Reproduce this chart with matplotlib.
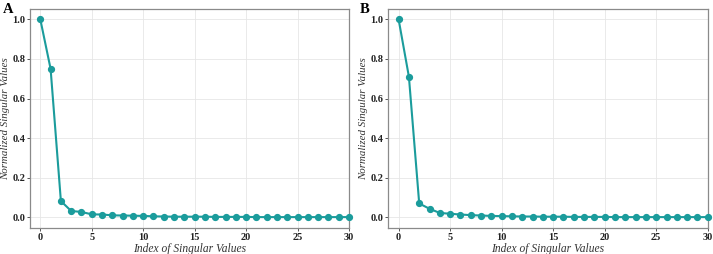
import matplotlib
matplotlib.use("Agg")
import matplotlib.pyplot as plt

# normalized singular values (index 0..30)
idx = list(range(31))
sv_a = [1.0, 0.75, 0.082, 0.032, 0.027, 0.015, 0.014, 0.010, 0.009, 0.008, 0.007,
        0.005, 0.004, 0.003, 0.003, 0.003, 0.003, 0.002, 0.002, 0.002, 0.002,
        0.001, 0.001, 0.001, 0.001, 0.001, 0.001, 0.001, 0.001, 0.001, 0.001]
sv_b = [1.0, 0.71, 0.070, 0.043, 0.022, 0.018, 0.014, 0.011, 0.009, 0.007, 0.006,
        0.005, 0.004, 0.004, 0.003, 0.003, 0.003, 0.002, 0.002, 0.002, 0.002,
        0.001, 0.001, 0.001, 0.001, 0.001, 0.001, 0.001, 0.001, 0.001, 0.001]
panels = ["A", "B"]
xticks = [0, 5, 10, 15, 20, 25, 30]
yticks = [0.0, 0.2, 0.4, 0.6, 0.8, 1.0]

plt.rcParams['font.family'] = ['Liberation Serif', 'DejaVu Serif']
color = '#1b9c9c'

fig = plt.figure(figsize=(7.13, 2.54), dpi=100)
positions = [[0.0421, 0.1024, 0.4474, 0.862], [0.5446, 0.1024, 0.448, 0.862]]
label_x = [3 / 713, 360 / 713]
ylab_x = [-0.062, -0.062]

for pos, vals, lab, lx, yx in zip(positions, [sv_a, sv_b], panels, label_x, ylab_x):
    ax = fig.add_axes(pos)
    ax.plot(idx, vals, color=color, linewidth=1.5, marker='o', markersize=4.2, zorder=3, clip_on=False)
    ax.set_xlim(-1, 30)
    ax.set_ylim(-0.054, 1.052)
    ax.set_xticks(xticks)
    ax.set_yticks(yticks)
    ax.set_yticklabels([f"{v:.1f}" for v in yticks])
    ax.grid(color='#e6e6e6', linewidth=0.6)
    ax.set_axisbelow(True)
    for s in ax.spines.values():
        s.set_color('#8a8a8a')
        s.set_linewidth(0.9)
    ax.tick_params(axis='both', colors='#555555', labelcolor='#222222', labelsize=7.5,
                   length=2, width=0.7, pad=1.5)
    for t in ax.get_xticklabels() + ax.get_yticklabels():
        t.set_fontweight('bold')
    ax.set_xlabel('Index of Singular Values', fontstyle='italic', fontsize=8.3, color='#333333', labelpad=0.5)
    ax.set_ylabel('Normalized Singular Values', fontstyle='italic', fontsize=7.8, color='#333333')
    ax.yaxis.set_label_coords(yx, 0.5)
    fig.text(lx, 0.99, lab, fontsize=10.5, fontweight='bold', va='top', ha='left')

fig.savefig('out.png', dpi=100)
